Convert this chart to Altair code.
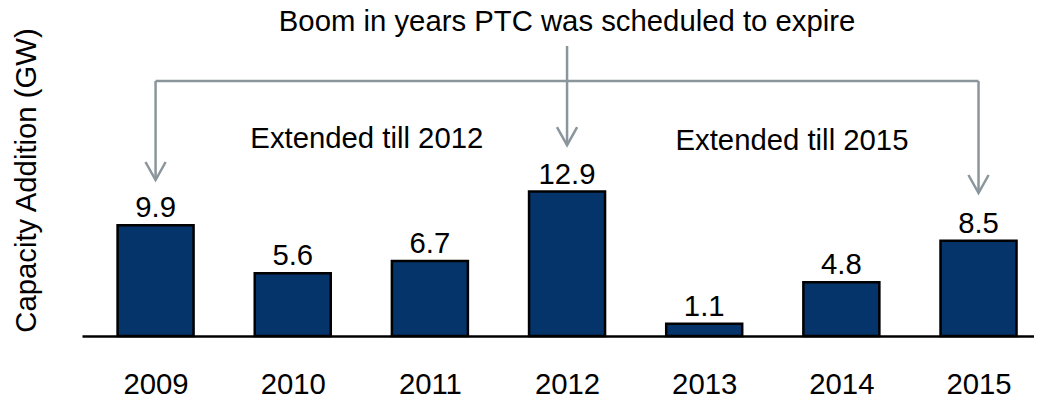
import altair as alt
import pandas as pd

years = [2009, 2010, 2011, 2012, 2013, 2014, 2015]
values = [9.9, 5.6, 6.7, 12.9, 1.1, 4.8, 8.5]
labels = ["9.9", "5.6", "6.7", "12.9", "1.1", "4.8", "8.5"]

# annotation geometry (in data units: year, GW)
bracket_from = [2009]
bracket_to = [2015]
bracket_level = [22.77]
arrow_x = [2009, 2012, 2015]
arrow_top = [22.77, 25.9, 22.77]
arrow_tip = [13.93, 17.05, 12.77]
note_text = ["Boom in years PTC was scheduled to expire", "Extended till 2012", "Extended till 2015"]
note_x = [2012.0, 2010.54, 2013.64]
note_y = [27.23, 16.8, 16.6]

FONT = "Liberation Sans"
GREY = "#8a969c"
NAVY = "#04346a"
FS = 29.3

bars_df = pd.DataFrame({"year": years, "value": values, "label": labels})
bracket_df = pd.DataFrame({"x": bracket_from, "x2": bracket_to, "y": bracket_level})
arrow_df = pd.DataFrame({"x": arrow_x, "top": arrow_top, "tip": arrow_tip})
note_df = pd.DataFrame({"text": note_text, "x": note_x, "y": note_y})

xscale = alt.Scale(domain=[2008.5, 2015.368], nice=False, zero=False)
yscale = alt.Scale(domain=[0, 29.29], nice=False, zero=True)

xaxis = alt.Axis(
    values=years, format="d", title=None, ticks=False, tickSize=0, grid=False,
    domain=True, domainColor="black", domainWidth=2.5,
    labelFont=FONT, labelFontSize=FS, labelColor="black",
    labelPadding=57, labelBaseline="alphabetic", labelFlush=False,
)
yaxis = alt.Axis(
    labels=False, ticks=False, domain=False, grid=False,
    title="Capacity Addition (GW)", titleFont=FONT, titleFontSize=FS,
    titleFontWeight="normal", titleColor="black", titleAngle=270,
    titleX=-47, titleY=172, titleAlign="center", titleBaseline="alphabetic",
)

bars = alt.Chart(bars_df).mark_bar(
    size=76, color=NAVY, stroke="black", strokeWidth=2.5
).encode(
    x=alt.X("year:Q", scale=xscale, axis=xaxis),
    y=alt.Y("value:Q", scale=yscale, axis=yaxis),
)

bar_labels = alt.Chart(bars_df).mark_text(
    font=FONT, fontSize=FS, color="black", baseline="alphabetic", dy=-8
).encode(
    x=alt.X("year:Q", scale=xscale),
    y=alt.Y("value:Q", scale=yscale),
    text="label:N",
)

bracket = alt.Chart(bracket_df).mark_rule(color=GREY, strokeWidth=2.5).encode(
    x=alt.X("x:Q", scale=xscale), x2="x2:Q",
    y=alt.Y("y:Q", scale=yscale),
)

stems = alt.Chart(arrow_df).mark_rule(color=GREY, strokeWidth=2.5).encode(
    x=alt.X("x:Q", scale=xscale),
    y=alt.Y("top:Q", scale=yscale), y2="tip:Q",
)

heads = alt.Chart(arrow_df).mark_point(
    shape="M-0.56,-1L0,0L0.56,-1", size=1296, filled=False,
    stroke=GREY, strokeWidth=2.5, opacity=1
).encode(
    x=alt.X("x:Q", scale=xscale),
    y=alt.Y("tip:Q", scale=yscale),
)

notes = alt.Chart(note_df).mark_text(
    font=FONT, fontSize=FS, color="black", baseline="alphabetic", align="center"
).encode(
    x=alt.X("x:Q", scale=xscale),
    y=alt.Y("y:Q", scale=yscale),
    text="text:N",
)

chart = alt.layer(bracket, stems, heads, bars, bar_labels, notes).properties(
    width=952, height=328,
    autosize=alt.AutoSizeParams(type="none"),
    padding={"left": 74, "top": 0, "right": 0, "bottom": 58},
).configure_view(stroke=None)

chart.save("out.html", embed_options={"renderer": "svg", "actions": False})
